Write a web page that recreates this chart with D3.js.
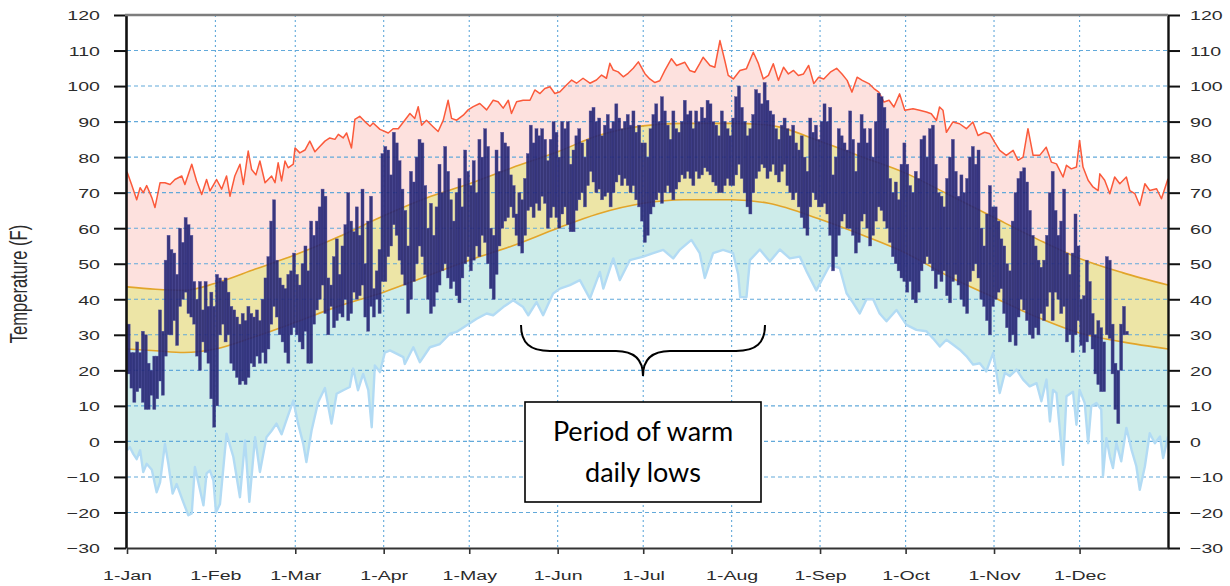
<!DOCTYPE html>
<html><head><meta charset="utf-8">
<script src="https://cdn.jsdelivr.net/npm/d3@7"></script>
<style>body{margin:0;background:#fff}svg{display:block}</style>
</head><body>
<svg id="c" width="1230" height="586"></svg>
<script>
// ---------------- DATA ----------------
const monthStarts = [0,31,59,90,120,151,181,212,243,273,304,334];
const monthLabels = ["1-Jan","1-Feb","1-Mar","1-Apr","1-May","1-Jun","1-Jul","1-Aug","1-Sep","1-Oct","1-Nov","1-Dec"];
const tempTicks = [-30,-20,-10,0,10,20,30,40,50,60,70,80,90,100,110,120];

// normals (day of year, °F)
const normalDays = [0,10,20,31,45,59,74,90,105,120,135,151,165,181,195,212,225,243,258,273,288,304,319,334,349,365];
const normalHigh = [43.5,42.8,42.5,44.5,48.5,52.5,57.5,63.5,68.5,72.5,77,81.5,86,88.8,89.5,89.5,89,84.5,80,75.5,69.5,63,57,51.5,47.5,44];
const normalLow  = [26,25.5,25,26,29.5,33.5,38,42,46.5,51,55,60,64,67,68,68,67,62.5,58,53,46.5,40.5,35,30.5,28,26];

// record high [day, °F]
const recordHigh = [[0,75.9],[1.6,72.3],[3.4,68],[4.6,71.4],[5.7,70],[6.9,72],[8.7,68.6],[9.8,65.8],[11.6,72.8],[13.3,72.8],[15.1,72.3],[16.8,73.7],[19.2,74.7],[20.3,72.3],[22.7,78],[24.4,73.3],[26.2,69.5],[27.9,73.7],[29.1,70.5],[31.4,73.7],[33.2,71],[34.9,74.7],[36.1,69],[37.8,74.7],[39.6,78],[40.8,72.3],[42.5,81.7],[43.7,76.5],[45.2,75],[46.6,78.9],[48.4,72.8],[50.7,74.7],[51.9,72.8],[53,78.4],[54.2,73.3],[55.4,78.9],[56.5,77],[58.3,78],[58.9,82.6],[60.6,81.2],[62.4,82],[64.1,84.5],[65.9,81.5],[67.6,83],[69.4,84.5],[71.1,85.4],[72.9,85],[74.1,86.4],[75.8,85.4],[77,86.8],[78.7,82.6],[79.9,90.6],[81.6,91.5],[83.4,90],[85.2,88.7],[86.3,89.6],[88.7,87.8],[91.6,86.8],[93.3,88],[95.1,88],[97.4,90.4],[99.2,92.3],[100.9,90.9],[102.1,94.2],[103.3,89],[105,90.4],[107.4,88.5],[109.1,87.2],[110.9,90.4],[112.6,96],[113.8,90.9],[115.6,90.4],[117.9,91.8],[119.6,93.3],[121.4,94.2],[123.7,95.1],[126.1,93.3],[128.4,96],[130.1,95.6],[131.9,93.8],[133.7,96],[134.8,92.3],[136.6,95.6],[138.9,96],[141.3,96],[143,98.9],[144.8,97.9],[146.5,99.3],[148.3,99.8],[150,97.9],[151.8,98.4],[154.1,100.3],[155.9,101.7],[157.6,100.8],[159.9,102.2],[162.3,100.8],[164.6,101.7],[166.4,103.1],[168.1,102.2],[169.3,106.4],[170.5,104.5],[172.2,104],[174,102.6],[175.7,103.6],[177.5,105],[179.3,106.8],[181.6,103.5],[183.3,102],[185.1,101],[186.8,101.5],[188.6,104.4],[190.9,107.7],[192.7,105.8],[195.6,106.7],[197.3,104.4],[199.1,103.9],[200.8,106.3],[202,108.1],[204.4,105.8],[206.1,105.3],[207.9,112.8],[209.6,107.2],[210.8,103],[212.6,102],[214.9,104.4],[217.2,104.9],[219.6,109.5],[221.4,106.3],[223.1,102],[224.9,103],[226.6,106.3],[228.4,101.6],[230.2,105.3],[231.9,103.4],[233.7,104.4],[235.4,103],[237.2,103.4],[239,105.8],[240.8,100.7],[242.5,102.5],[244.3,102],[246.6,103.9],[248.8,105],[250.7,103.4],[252.5,101.6],[254.2,98.3],[256,102.5],[257.8,101.6],[260.1,100.7],[261.9,99.3],[263.6,98.3],[265.4,95.5],[267.2,96],[268.9,94.1],[270.9,97.8],[272.7,93.2],[275.6,93.6],[277.9,93.2],[280.3,92.7],[282,92.2],[283.8,90.3],[284.9,94.1],[286.1,93.2],[287.3,87],[289.6,89.9],[291.9,89.4],[294.3,88],[296.6,89.9],[298.4,86.1],[300.7,87],[302.5,86.6],[304.2,84.2],[306,81.9],[308.3,80.5],[310.7,81.9],[312.4,79.1],[314.2,80],[315.9,88],[317.7,80.5],[320,80.5],[322.3,82.8],[324.1,78.6],[325.9,78.1],[328.2,74.4],[329.4,77.7],[331.1,76.7],[332.9,77.2],[334,84.7],[335.2,77.2],[337,73.5],[338.7,71.6],[340.5,70.6],[341.1,75.3],[342.8,73.5],[344.6,69.7],[346.3,74.4],[348.1,72.5],[350.4,74.4],[351.6,70.6],[353.4,69.7],[355.1,66.4],[356.9,72.5],[358.6,70.6],[361,71.1],[362.7,68.3],[365,73.9]];

// record low [day, °F]
const recordLow = [[0,-2.5],[1,-1.6],[2.2,-3.5],[3.4,-5],[4.6,-2.5],[5.7,-8.6],[6.9,-6.3],[8.7,-8],[10.4,-14.3],[11.6,-11.5],[13.3,-0.7],[14.5,-6.3],[16,-14.7],[17.4,-12],[19.7,-17],[21.5,-20.8],[22.7,-20.3],[23.8,-7.2],[25,-11.5],[26.8,-18],[27.9,-9],[29.1,-8.2],[30.3,-11],[31.2,-20],[32.6,-17.6],[34.9,2.2],[37.3,-4.4],[39.6,-15.7],[41.4,0.3],[42.9,-17],[44.9,1.2],[46.6,-8.6],[48.9,1.2],[50.7,3],[52.4,5],[54.2,2],[55.9,6],[58.3,11.5],[60,5],[61.8,-0.7],[62.9,-5.8],[64.7,3],[67,11],[69.4,15],[71.7,5],[73.5,13.4],[75.8,14.4],[78.1,15.3],[79.3,20.5],[81,14.4],[82.8,19],[84.6,14.4],[85.8,4],[86.9,21.4],[88.7,19.5],[90.4,25],[92.2,25.6],[94.5,24.7],[96.9,23.7],[97.4,21.8],[100.4,26.5],[102.7,22.3],[106.2,26.5],[109.7,27.4],[113.2,30.3],[115.5,30.8],[119,32.6],[122.6,34.5],[126.1,36],[128.4,35.5],[131.9,37.8],[135.4,39.7],[138.9,37.8],[140.7,35.5],[143.6,39.2],[145.9,35.5],[149.4,41.6],[151.8,43],[155.3,44],[158.8,45.4],[162.3,40.2],[165.8,47.7],[167,43],[170.5,51.5],[172.8,45.4],[176.3,51],[181,52],[184.5,53],[188,53.9],[191.5,51.5],[193.8,53.9],[197.9,56.7],[200.8,53],[202.6,46],[205.5,53],[209,53.9],[212.5,53],[214.3,47],[215,40.6],[217.2,40.6],[218.4,51],[221.9,54],[225.4,50.6],[228.9,54],[232.4,51.5],[235.9,52],[238.2,48],[241.7,42.5],[244,46],[246.4,49.6],[249.9,48.8],[252.3,41.7],[254.6,39],[256.9,36],[259.3,40],[261.6,40],[263.9,36],[266.3,33.8],[269.8,37],[273.3,32.8],[276.8,31.4],[280.3,31],[282.6,29],[285,26.7],[287.3,28.6],[289.7,27.2],[292,25.8],[294.3,24],[296.7,21.6],[299,22],[301.3,19.7],[303.7,24.9],[306,13.6],[307.8,19.3],[309.5,18.4],[311.9,20.2],[314.2,17.4],[316.5,15.5],[318.9,16.4],[320.6,11.3],[322.4,17.4],[323.6,5.6],[324.7,14.5],[325.9,13.6],[328.2,-6.6],[329.4,12.7],[331.7,14],[332.9,4.7],[334,14.5],[335.8,10.8],[337,-0.5],[338.1,9.9],[339.9,10.8],[341.6,9],[342.2,-9.8],[343.4,0.9],[344.6,-4.2],[345.7,-7.5],[346.9,-0.5],[348.6,-5.6],[350.4,3.8],[352.2,-2.3],[353.9,-7],[355.1,-13.6],[356.9,-7],[358.6,2.3],[360.4,-0.5],[362.2,1.4],[363.3,-4.7],[365,1.4]];

// daily observed high / low, from 1-Jan (index = day of year)
const dailyHigh = [
33,25,25,28,25,31,30,22,20,24,24,37,31,51,58,54,53,47,60,56,63,61,58,45,40,45,37,45,38,42,38,
47,46,45,46,42,38,37,35,33,36,34,38,36,35,37,34,40,46,52,62,68,51,46,44,43,47,48,53,
47,44,50,55,48,62,58,62,66,71,69,46,44,52,57,47,55,61,70,62,59,66,58,71,50,62,69,43,48,54,81,
83,82,75,87,84,79,71,65,55,76,73,80,85,84,72,60,67,58,66,78,70,83,76,68,62,70,74,66,82,76,
72,79,70,85,80,88,83,60,58,82,76,87,84,83,75,72,64,70,68,74,81,89,84,88,86,88,85,79,85,90,87,
80,90,88,90,78,82,86,88,84,80,85,93,94,90,91,86,89,92,88,90,95,91,88,90,92,89,93,87,89,84,
84,80,88,92,95,90,97,93,89,85,93,88,87,90,96,92,93,88,93,90,94,91,96,95,90,89,86,93,90,88,86,
91,97,100,94,90,86,88,92,99,98,95,101,96,93,92,88,85,89,91,88,86,89,84,82,86,80,76,91,87,89,85,
90,95,90,94,75,80,88,86,84,82,93,85,76,84,92,88,84,88,80,90,98,97,94,88,74,70,73,68,78,84,
78,72,70,76,74,85,86,80,88,89,78,70,69,66,74,80,85,76,69,75,70,74,80,83,78,82,60,55,64,72,66,
66,62,57,55,50,48,62,70,74,76,77,73,65,58,55,51,49,51,58,70,76,65,58,62,71,53,47,53,64,55,
40,41,51,45,36,30,34,32,28,52,51,33,22,20,33,38,31];
const dailyLow = [
19,15,11,14,15,11,9,9,13,9,12,17,13,24,30,30,34,27,38,40,42,36,35,33,24,20,28,25,22,12,4,
10,30,33,28,30,22,20,18,16,17,16,18,22,21,24,22,25,22,26,33,38,35,30,28,25,22,30,32,
30,28,26,31,22,22,33,37,40,44,36,30,38,32,34,36,35,40,34,36,42,40,41,44,35,31,38,35,40,36,45,
45,52,55,61,58,51,47,44,36,40,45,50,55,52,47,40,36,38,42,44,48,50,46,43,45,41,39,46,50,52,
48,51,55,52,58,56,50,43,40,47,55,60,62,63,66,63,58,55,53,58,65,66,63,67,65,69,67,60,63,66,63,
60,64,66,61,59,59,65,68,70,66,72,76,73,70,71,68,69,70,66,70,73,75,72,74,72,70,72,68,66,62,
56,58,64,66,68,70,67,70,72,70,68,71,73,75,74,76,74,72,76,74,75,77,76,75,73,72,70,70,72,74,72,
72,75,78,74,70,66,64,70,74,76,78,77,74,76,78,75,73,76,78,72,70,68,70,66,63,60,58,66,70,68,66,
66,67,64,58,48,52,58,62,64,60,60,58,53,56,62,64,60,55,58,62,66,65,62,60,56,52,50,48,46,45,
42,45,40,39,42,48,50,52,50,48,43,47,45,48,41,39,45,47,44,40,38,36,45,48,50,46,40,38,34,30,38,
40,42,43,36,32,28,30,27,35,40,37,34,30,29,32,30,36,34,38,42,34,42,40,36,38,28,30,25,30,34,
27,25,28,30,26,19,16,14,14,30,29,19,9,5,20,30,30];

const noteLines = ["Period of warm","daily lows"];

// ---------------- CHART ----------------
const svg = d3.select('#c');
const x = d3.scaleLinear().domain([0,365]).range([127,1168]);
const y = d3.scaleLinear().domain([-30,120]).range([548,15]);
const base = y(-30);
const normals = normalDays.map((d,i)=>({d, hi:normalHigh[i], lo:normalLow[i]}));
const mono = d3.curveMonotoneX;

// fills
svg.append('path').datum(recordHigh)
  .attr('d', d3.area().x(d=>x(d[0])).y0(base).y1(d=>y(d[1])))
  .attr('fill','#fde1de');
svg.append('path').datum(normals)
  .attr('d', d3.area().curve(mono).x(d=>x(d.d)).y0(base).y1(d=>y(d.lo)))
  .attr('fill','#cdecea');
svg.append('path').datum(recordLow)
  .attr('d', d3.area().x(d=>x(d[0])).y0(base).y1(d=>y(d[1])))
  .attr('fill','#ffffff');
svg.append('path').datum(normals)
  .attr('d', d3.area().curve(mono).x(d=>x(d.d)).y0(d=>y(d.lo)).y1(d=>y(d.hi)))
  .attr('fill','#ede5a6');

// grid
const grid = svg.append('g');
grid.selectAll('line.h').data(tempTicks.filter(t=>t>-30 && t<120)).join('line')
  .attr('x1',x(0)).attr('x2',x(365)).attr('y1',d=>y(d)).attr('y2',d=>y(d))
  .attr('stroke','#62a9da').attr('stroke-width',1.1).attr('stroke-dasharray','4,3');
grid.selectAll('line.v').data(monthStarts.slice(1)).join('line')
  .attr('x1',d=>x(d)).attr('x2',d=>x(d)).attr('y1',y(120)).attr('y2',y(-30))
  .attr('stroke','#62a9da').attr('stroke-width',1.1).attr('stroke-dasharray','2,3');

// lines
const nLine = key => d3.line().curve(mono).x(d=>x(d.d)).y(d=>y(d[key]));
svg.append('path').datum(normals).attr('d',nLine('hi')).attr('fill','none').attr('stroke','#e2a52a').attr('stroke-width',1.6);
svg.append('path').datum(normals).attr('d',nLine('lo')).attr('fill','none').attr('stroke','#e2a52a').attr('stroke-width',1.6);
const rLine = d3.line().x(d=>x(d[0])).y(d=>y(d[1]));
svg.append('path').datum(recordLow).attr('d',rLine).attr('fill','none').attr('stroke','#b2dbf4').attr('stroke-width',2.4).attr('stroke-linejoin','round');
svg.append('path').datum(recordHigh).attr('d',rLine).attr('fill','none').attr('stroke','#fb5a3b').attr('stroke-width',1.5).attr('stroke-linejoin','round');

// daily bars
svg.append('g').selectAll('rect').data(dailyHigh).join('rect')
  .attr('x',(d,i)=>x(i)+0.1).attr('width',x(1)-x(0)+0.2)
  .attr('y',d=>y(d)).attr('height',(d,i)=>y(dailyLow[i])-y(d))
  .attr('fill','#232372').attr('fill-opacity',0.9)
  .attr('stroke','#4c4c9c').attr('stroke-width',0.5).attr('stroke-opacity',0.8);

// axes
const FONT = '"Liberation Sans", Arial, sans-serif';
const SX = 1.45;
function styleText(sel){ sel.attr('fill','#2b2b2b').style('font-family',FONT).style('font-size','13.5px'); }

const gL = svg.append('g').attr('transform',`translate(${x(0)-1},0)`)
  .call(d3.axisLeft(y).tickValues(tempTicks).tickSize(12).tickSizeOuter(0));
gL.select('.domain').attr('stroke','#111').attr('stroke-width',2.6);
gL.selectAll('.tick line').attr('stroke','#111').attr('stroke-width',2);
gL.selectAll('.tick text').attr('x',0).attr('dy','0.36em').attr('text-anchor','end')
  .attr('transform',`translate(-26,0) scale(${SX},1)`).call(styleText);

const gR = svg.append('g').attr('transform',`translate(${x(365)},0)`)
  .call(d3.axisRight(y).tickValues(tempTicks).tickSize(12).tickSizeOuter(0));
gR.select('.domain').attr('stroke','#111').attr('stroke-width',2.4);
gR.selectAll('.tick line').attr('stroke','#111').attr('stroke-width',2);
gR.selectAll('.tick text').attr('x',0).attr('dy','0.36em').attr('text-anchor','start')
  .attr('transform',`translate(22,0) scale(${SX},1)`).call(styleText);

const gB = svg.append('g').attr('transform',`translate(0,${y(-30)})`)
  .call(d3.axisBottom(x).tickValues(monthStarts).tickSize(6).tickSizeOuter(0).tickFormat((d,i)=>monthLabels[i]));
gB.select('.domain').attr('stroke','#333').attr('stroke-width',2);
gB.selectAll('.tick line').attr('stroke','#333').attr('stroke-width',1.6);
gB.selectAll('.tick text').attr('y',0).attr('dy',0)
  .attr('transform',`translate(0,32) scale(${SX},1)`).call(styleText);

// top border
svg.append('line').attr('x1',x(0)-2).attr('x2',x(365)).attr('y1',y(120)).attr('y2',y(120))
  .attr('stroke','#7d7d7d').attr('stroke-width',2.6);

// y title
svg.append('text').text('Temperature (F)')
  .attr('transform','translate(27,284) rotate(-90) scale(1,1.45)')
  .attr('text-anchor','middle').attr('fill','#2b2b2b')
  .style('font-family',FONT).style('font-size','16.5px');

// annotation brace + box
svg.append('path')
  .attr('d','M521,325 C521,343 530,351 550,351 L616,351 C634,351 643,359 643,376 C643,359 652,351 670,351 L736,351 C756,351 765,343 765,325')
  .attr('fill','none').attr('stroke','#000').attr('stroke-width',2);
svg.append('rect').attr('x',525).attr('y',402).attr('width',236).attr('height',100)
  .attr('fill','#fff').attr('stroke','#000').attr('stroke-width',1.6);
svg.append('g').selectAll('text').data(noteLines).join('text')
  .attr('x',643).attr('y',(d,i)=>441+i*41).attr('text-anchor','middle')
  .attr('fill','#000').style('font-family','Lato, "Open Sans", sans-serif').style('font-size','27px')
  .text(d=>d);
</script>
</body></html>
